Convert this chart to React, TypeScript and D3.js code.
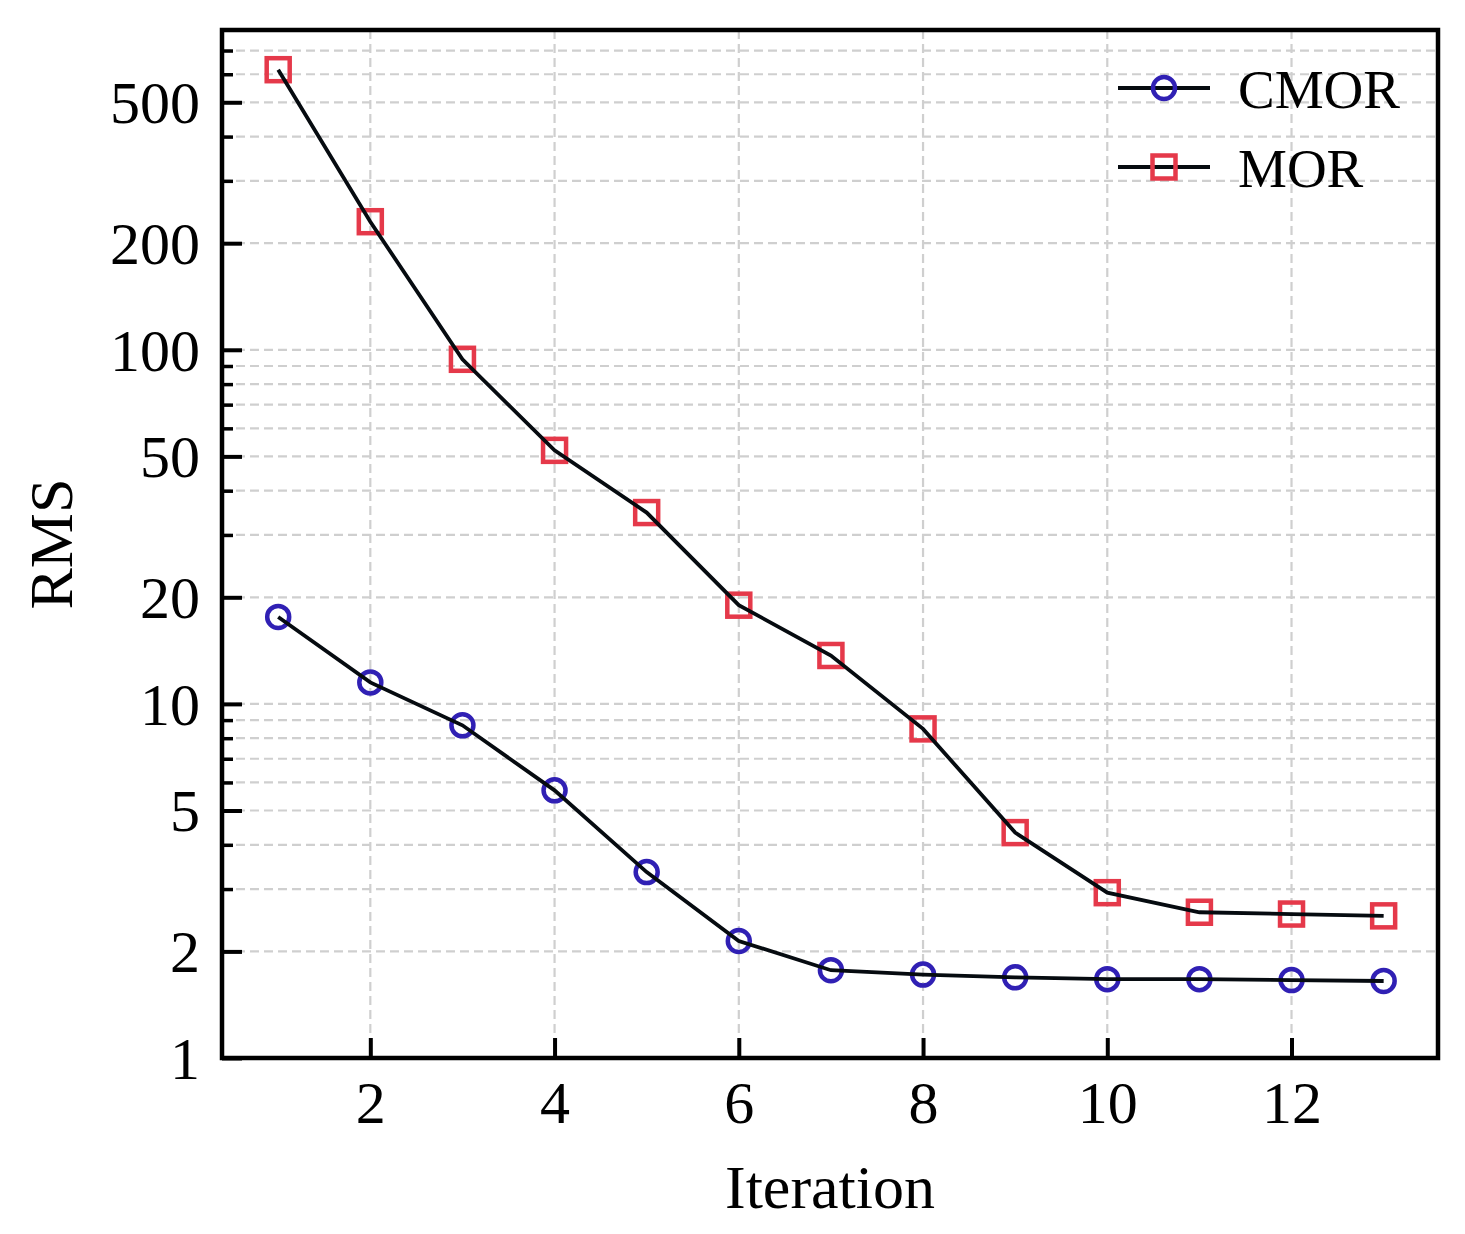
import { useEffect, useRef } from 'react';
import * as d3 from 'd3';

const iterations = [1, 2, 3, 4, 5, 6, 7, 8, 9, 10, 11, 12, 13];
const cmorValues = [17.6, 11.5, 8.7, 5.7, 3.35, 2.14, 1.77, 1.72, 1.69, 1.67, 1.67, 1.66, 1.65];
const morValues = [618, 230, 94, 52, 34.7, 19.0, 13.7, 8.5, 4.33, 2.93, 2.58, 2.55, 2.52];
const xTicks = [2, 4, 6, 8, 10, 12];
const yMajorTicks = [1, 2, 5, 10, 20, 50, 100, 200, 500];
const yMinorTicks = [3, 4, 6, 7, 8, 9, 30, 40, 60, 70, 80, 90, 300, 400, 600, 700];
const seriesNames = ['CMOR', 'MOR'];

const WIDTH = 1465;
const HEIGHT = 1234;
const FONT = '"Liberation Serif", "Times New Roman", serif';

export default function App() {
  const svgRef = useRef<SVGSVGElement>(null);

  useEffect(() => {
    if (!svgRef.current) return;
    const svg = d3.select(svgRef.current);
    svg.selectAll('*').remove();

    const margin = { left: 222, right: 1438, top: 30, bottom: 1058 };

    const x = d3.scaleLinear().domain([0.39, 13.59]).range([margin.left, margin.right]);
    const y = d3.scaleLog().domain([1, 800]).range([margin.bottom, margin.top]);

    const gridColor = '#cfcfcf';
    const grid = svg.append('g');
    // vertical grid
    grid.selectAll('line.vx')
      .data(xTicks)
      .enter()
      .append('line')
      .attr('x1', d => x(d)).attr('x2', d => x(d))
      .attr('y1', margin.top).attr('y2', margin.bottom)
      .attr('stroke', gridColor).attr('stroke-width', 2.2).attr('stroke-dasharray', '9,5');
    // horizontal grid
    grid.selectAll('line.hy')
      .data([...yMajorTicks, ...yMinorTicks])
      .enter()
      .append('line')
      .attr('x1', margin.left).attr('x2', margin.right)
      .attr('y1', d => y(d)).attr('y2', d => y(d))
      .attr('stroke', gridColor).attr('stroke-width', 2.2).attr('stroke-dasharray', '9,5');

    // x axis (inward ticks)
    const xAxis = d3.axisBottom(x).tickValues(xTicks).tickSizeInner(-20).tickSizeOuter(0).tickPadding(22);
    const gx = svg.append('g').attr('transform', `translate(0,${margin.bottom})`).call(xAxis);
    gx.select('.domain').remove();
    gx.selectAll('line').attr('stroke', '#000').attr('stroke-width', 4);
    gx.selectAll('text').attr('font-family', FONT).attr('font-size', 60).attr('fill', '#000');

    // y axis major
    const yAxis = d3.axisLeft(y).tickValues(yMajorTicks).tickFormat(d3.format('d')).tickSizeInner(-20).tickSizeOuter(0).tickPadding(22);
    const gy = svg.append('g').attr('transform', `translate(${margin.left},0)`).call(yAxis);
    gy.select('.domain').remove();
    gy.selectAll('line').attr('stroke', '#000').attr('stroke-width', 4);
    gy.selectAll('text').attr('font-family', FONT).attr('font-size', 60).attr('fill', '#000').attr('dy', '0.34em');

    // y axis minor
    const yMinor = d3.axisLeft(y).tickValues(yMinorTicks).tickFormat(() => '').tickSizeInner(-11).tickSizeOuter(0);
    const gym = svg.append('g').attr('transform', `translate(${margin.left},0)`).call(yMinor);
    gym.select('.domain').remove();
    gym.selectAll('line').attr('stroke', '#000').attr('stroke-width', 3.5);

    // frame
    svg.append('rect')
      .attr('x', margin.left).attr('y', margin.top)
      .attr('width', margin.right - margin.left).attr('height', margin.bottom - margin.top)
      .attr('fill', 'none').attr('stroke', '#000').attr('stroke-width', 4.5);

    const line = d3.line<number>()
      .x((_, i) => x(iterations[i]))
      .y(d => y(d));

    const red = '#e5394a';
    const blue = '#3020b4';
    const lineColor = '#060b10';

    // markers first, line on top
    svg.selectAll('rect.mor')
      .data(morValues)
      .enter()
      .append('rect')
      .attr('x', (_, i) => x(iterations[i]) - 11.5)
      .attr('y', d => y(d) - 11.5)
      .attr('width', 23).attr('height', 23)
      .attr('fill', 'none').attr('stroke', red).attr('stroke-width', 4.5);

    svg.selectAll('circle.cmor')
      .data(cmorValues)
      .enter()
      .append('circle')
      .attr('cx', (_, i) => x(iterations[i]))
      .attr('cy', d => y(d))
      .attr('r', 11)
      .attr('fill', 'none').attr('stroke', blue).attr('stroke-width', 4.5);

    svg.append('path').attr('d', line(morValues) || '')
      .attr('fill', 'none').attr('stroke', lineColor).attr('stroke-width', 3.8);
    svg.append('path').attr('d', line(cmorValues) || '')
      .attr('fill', 'none').attr('stroke', lineColor).attr('stroke-width', 3.8);

    // legend
    const legend = svg.append('g');
    const legendY = [88, 167];
    seriesNames.forEach((name, i) => {
      const ly = legendY[i];
      legend.append('line')
        .attr('x1', 1118).attr('x2', 1210).attr('y1', ly).attr('y2', ly)
        .attr('stroke', lineColor).attr('stroke-width', 3.8);
      if (i === 0) {
        legend.append('circle').attr('cx', 1164).attr('cy', ly).attr('r', 11)
          .attr('fill', 'none').attr('stroke', blue).attr('stroke-width', 4.5);
      } else {
        legend.append('rect').attr('x', 1164 - 11.5).attr('y', ly - 11.5)
          .attr('width', 23).attr('height', 23)
          .attr('fill', 'none').attr('stroke', red).attr('stroke-width', 4.5);
      }
      legend.append('text')
        .attr('x', 1238).attr('y', ly + 20)
        .attr('font-family', FONT).attr('font-size', 55).attr('fill', '#000')
        .text(name);
    });

    // axis labels
    svg.append('text')
      .attr('x', (margin.left + margin.right) / 2).attr('y', 1208)
      .attr('text-anchor', 'middle')
      .attr('font-family', FONT).attr('font-size', 62).attr('fill', '#000')
      .text('Iteration');

    svg.append('text')
      .attr('transform', `translate(72,${(margin.top + margin.bottom) / 2}) rotate(-90)`)
      .attr('text-anchor', 'middle')
      .attr('font-family', FONT).attr('font-size', 62).attr('fill', '#000')
      .text('RMS');
  }, []);

  return (
    <svg
      ref={svgRef}
      width={WIDTH}
      height={HEIGHT}
      style={{ position: 'absolute', left: 0, top: 0, background: '#fff' }}
    />
  );
}
